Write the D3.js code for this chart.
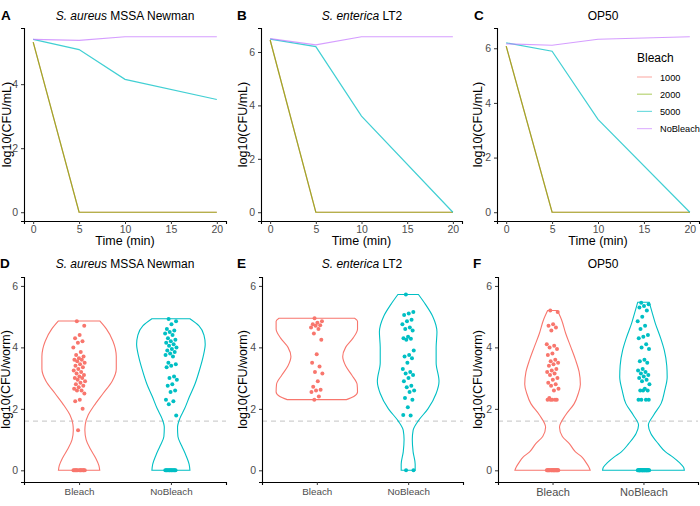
<!DOCTYPE html>
<html><head><meta charset="utf-8">
<script src="https://cdn.jsdelivr.net/npm/d3@7"></script>
<style>
body{margin:0;background:#fff;}
text{font-family:"Liberation Sans",Arial,sans-serif;}
</style></head>
<body><svg id="c" width="700" height="506"></svg>
<script>
// ---------------- DATA ----------------
const times = [0, 5, 10, 20];
const bleachLevels = ["1000", "2000", "5000", "NoBleach"];
const timeTicks = [0, 5, 10, 15, 20];

const A_1000 = [5.31, 0, 0, 0];
const A_2000 = [5.31, 0, 0, 0];
const A_5000 = [5.40, 5.08, 4.15, 3.52];
const A_NoBleach = [5.40, 5.37, 5.48, 5.48];

const B_1000 = [6.45, 0, 0, 0];
const B_2000 = [6.45, 0, 0, 0];
const B_5000 = [6.48, 6.20, 3.60, 0];
const B_NoBleach = [6.50, 6.27, 6.57, 6.57];

const C_1000 = [6.08, 0, 0, 0];
const C_2000 = [6.08, 0, 0, 0];
const C_5000 = [6.20, 5.89, 3.40, 0];
const C_NoBleach = [6.16, 6.11, 6.33, 6.42];

const ticksA = [0, 2, 4];
const ticksBC = [0, 2, 4, 6];
const wormTicks = [0, 2, 4, 6];
const groups = ["Bleach", "NoBleach"];
const detectionLimit = 1.6;

// worm CFU points
const D_Bleach = [4.85,4.7,4.4,4.3,4.2,4.15,4.0,3.85,3.75,3.7,3.65,3.6,3.6,3.55,3.5,3.45,3.4,3.35,3.3,3.25,3.2,3.15,3.1,3.05,3.0,3.0,2.95,2.9,2.85,2.8,2.75,2.7,2.65,2.6,2.6,2.5,2.3,2.25,2.0,1.3,
  0,0,0,0,0,0,0,0,0,0,0,0];
const D_NoBleach = [4.92,4.85,4.75,4.6,4.55,4.5,4.45,4.4,4.3,4.25,4.2,4.15,4.1,4.05,4.0,3.95,3.9,3.85,3.8,3.75,3.7,3.5,3.45,3.4,3.35,3.05,3.0,2.95,2.8,2.75,2.6,2.55,2.3,2.25,2.15,1.78,
  0,0,0,0,0,0,0,0,0,0,0,0];
const E_Bleach = [4.95,4.85,4.8,4.75,4.72,4.7,4.65,4.6,4.45,4.25,3.78,3.5,3.38,3.2,3.15,2.9,2.72,2.62,2.6,2.55,2.4,2.3];
const E_NoBleach = [5.72,5.15,5.1,5.05,4.9,4.85,4.75,4.65,4.6,4.55,4.35,4.3,4.28,4.25,3.9,3.75,3.7,3.65,3.5,3.3,3.2,3.15,3.1,3.0,2.9,2.75,2.7,2.6,2.55,2.35,2.3,2.05,1.8,1.78,0,0];
const F_Bleach = [5.2,5.15,4.75,4.7,4.65,4.55,4.1,4.05,4.0,3.95,3.8,3.75,3.6,3.55,3.5,3.45,3.4,3.3,3.25,3.2,3.15,3.1,3.0,2.95,2.85,2.8,2.75,2.65,2.6,2.35,2.3,2.3,2.3,2.3,2.3,
  0,0,0,0,0,0,0,0,0,0,0,0,0,0,0,0,0,0,0,0];
const F_NoBleach = [5.45,5.4,5.35,5.3,5.2,5.0,4.85,4.7,4.6,4.4,4.35,4.3,4.1,4.0,3.95,3.6,3.55,3.5,3.3,3.25,3.2,3.15,3.1,3.05,3.0,2.95,2.9,2.8,2.65,2.6,2.6,2.6,2.3,2.3,2.3,2.3,
  0,0,0,0,0,0,0,0,0,0,0,0,0,0,0,0,0,0,0,0,0,0,0,0,0];

// violin density profiles: [log10 CFU, relative width]
const D_BleachDens = [[4.86,.50],[4.6,.66],[4.2,.82],[3.7,.90],[3.3,.90],[2.9,.80],[2.5,.58],[2.1,.36],[1.8,.22],[1.5,.15],[1.3,.14],[1.0,.17],[0.7,.27],[0.4,.40],[0.15,.48],[0,.50]];
const D_NoBleachDens = [[4.93,.46],[4.7,.68],[4.4,.80],[4.1,.83],[3.7,.78],[3.3,.70],[2.8,.58],[2.4,.45],[2.0,.33],[1.7,.22],[1.4,.16],[1.1,.17],[0.8,.26],[0.5,.36],[0.2,.44],[0,.46]];
const E_BleachDens = [[4.95,.92],[4.85,.99],[4.6,.99],[4.3,.88],[4.0,.70],[3.7,.63],[3.4,.70],[3.1,.85],[2.8,.98],[2.55,.99],[2.4,.90],[2.3,.72]];
const E_NoBleachDens = [[5.72,.25],[5.4,.42],[5.0,.60],[4.5,.70],[4.0,.68],[3.5,.68],[2.9,.75],[2.5,.68],[2.0,.48],[1.6,.24],[1.3,.12],[1.0,.10],[0.6,.12],[0.2,.17],[0,.17]];
const F_BleachDens = [[5.2,.12],[4.9,.22],[4.46,.32],[4.0,.45],[3.6,.56],[3.2,.65],[2.8,.68],[2.5,.63],[2.17,.53],[1.8,.32],[1.4,.17],[1.1,.24],[0.87,.41],[0.6,.56],[0.43,.72],[0.25,.82],[0.1,.89],[0,.92]];
const F_NoBleachDens = [[5.47,.14],[5.1,.22],[4.78,.29],[4.3,.42],[3.9,.51],[3.4,.57],[3.04,.58],[2.6,.52],[2.17,.43],[1.8,.25],[1.47,.12],[1.2,.18],[0.87,.36],[0.6,.54],[0.43,.72],[0.25,.88],[0.1,.98],[0,1.0]];

// ---------------- STYLE ----------------
const lineColors = {"1000":"#F8766D","2000":"#7CAE00","5000":"#00BFC4","NoBleach":"#C77CFF"};
const grpColors = {"Bleach":"#F8766D","NoBleach":"#00BFC4"};
const svg = d3.select("#c");

function title(g, x, y, italicPart, rest) {
  const t = g.append("text").attr("x", x).attr("y", y).attr("text-anchor","middle")
    .attr("font-size", 12).attr("fill","#000");
  if (italicPart) t.append("tspan").attr("font-style","italic").text(italicPart + " ");
  t.append("tspan").text(rest);
}
function letter(x, y, s) {
  svg.append("text").attr("x", x).attr("y", y).attr("font-size", 13.5)
    .attr("font-weight","bold").text(s);
}
function styleAxis(g, fs) {
  g.select(".domain").attr("stroke","#000").attr("stroke-width",1.1);
  g.selectAll(".tick line").attr("stroke","#333").attr("stroke-width",1);
  g.selectAll(".tick text").attr("fill","#4D4D4D").attr("font-size", fs)
    .attr("font-family","'Liberation Sans',Arial,sans-serif");
}

// ---------------- TOP ROW: line charts ----------------
const topPanels = [
  {L:"A", it:"S. aureus", rest:"MSSA Newman", x0:24, x1:226, tx:125, lx:1, ytx:7,
   series:{"1000":A_1000,"2000":A_2000,"5000":A_5000,"NoBleach":A_NoBleach}, ticks:ticksA},
  {L:"B", it:"S. enterica", rest:"LT2", x0:261, x1:462, tx:362, lx:237, ytx:243,
   series:{"1000":B_1000,"2000":B_2000,"5000":B_5000,"NoBleach":B_NoBleach}, ticks:ticksBC},
  {L:"C", it:null, rest:"OP50", x0:497, x1:699, tx:603, lx:474, ytx:478,
   series:{"1000":C_1000,"2000":C_2000,"5000":C_5000,"NoBleach":C_NoBleach}, ticks:ticksBC}
];
const topY0 = 221, topY1 = 28;
topPanels.forEach(p => {
  const allv = bleachLevels.flatMap(k => p.series[k]);
  const [mn, mx] = d3.extent(allv);
  const pad = (mx - mn) * 0.05;
  const y = d3.scaleLinear().domain([mn - pad, mx + pad]).range([topY0, topY1]);
  const x = d3.scaleLinear().domain([-1, 21]).range([p.x0, p.x1]);
  const g = svg.append("g");
  const line = d3.line().x((d,i) => x(times[i])).y(d => y(d));
  bleachLevels.forEach(k => {
    g.append("path").datum(p.series[k]).attr("d", line).attr("fill","none")
      .attr("stroke", lineColors[k]).attr("stroke-width", 1.2).attr("stroke-opacity", 0.75);
  });
  const ax = svg.append("g").attr("transform", `translate(${p.x0},0)`)
    .call(d3.axisLeft(y).tickValues(p.ticks).tickSize(3).tickPadding(3).tickFormat(d3.format("d")));
  styleAxis(ax, 10.5);
  const bx = svg.append("g").attr("transform", `translate(0,${topY0})`)
    .call(d3.axisBottom(x).tickValues(timeTicks).tickSize(3).tickPadding(2).tickFormat(d3.format("d")));
  styleAxis(bx, 10.5);
  svg.append("text").attr("x", (p.x0 + p.x1)/2).attr("y", 245).attr("text-anchor","middle")
    .attr("font-size", 12.5).text("Time (min)");
  svg.append("text").attr("transform", `translate(${p.ytx + 4},${(topY0+topY1)/2}) rotate(-90)`)
    .attr("text-anchor","middle").attr("font-size", 12.5).text("log10(CFU/mL)");
  title(svg, p.tx, 20, p.it, p.rest);
  letter(p.lx, 20, p.L);
});

// legend (inside panel C)
const lg = svg.append("g");
lg.append("text").attr("x", 637).attr("y", 62).attr("font-size", 12).text("Bleach");
bleachLevels.forEach((k, i) => {
  const yy = 77 + i * 17.2;
  lg.append("line").attr("x1", 637).attr("x2", 652).attr("y1", yy).attr("y2", yy)
    .attr("stroke", lineColors[k]).attr("stroke-width", 1.2).attr("stroke-opacity", 0.55);
  lg.append("text").attr("x", 660).attr("y", yy + 3.5).attr("font-size", 9.2).text(k);
});

// ---------------- BOTTOM ROW: violins ----------------
const botPanels = [
  {L:"D", it:"S. aureus", rest:"MSSA Newman", x0:24, x1:226, tx:125, lx:0, ytx:6, fs:9.8,
   pts:{Bleach:D_Bleach, NoBleach:D_NoBleach}, dens:{Bleach:D_BleachDens, NoBleach:D_NoBleachDens}},
  {L:"E", it:"S. enterica", rest:"LT2", x0:262, x1:463, tx:362, lx:237, ytx:243, fs:9.8,
   pts:{Bleach:E_Bleach, NoBleach:E_NoBleach}, dens:{Bleach:E_BleachDens, NoBleach:E_NoBleachDens}},
  {L:"F", it:null, rest:"OP50", x0:498, x1:698, tx:603, lx:473, ytx:478, fs:11,
   pts:{Bleach:F_Bleach, NoBleach:F_NoBleach}, dens:{Bleach:F_BleachDens, NoBleach:F_NoBleachDens}}
];
const botY0 = 482, botY1 = 277;
botPanels.forEach(p => {
  const y = d3.scaleLinear().domain([-0.38, 6.29]).range([botY0, botY1]);
  const x = d3.scalePoint().domain(groups).range([p.x0, p.x1]).padding(0.6);
  const half = x.step() * 0.45;
  const g = svg.append("g");
  // detection limit
  g.append("line").attr("x1", p.x0).attr("x2", p.x1).attr("y1", y(detectionLimit)).attr("y2", y(detectionLimit))
    .attr("stroke","#CFCFCF").attr("stroke-width",1.1).attr("stroke-dasharray","5,4");
  groups.forEach(grp => {
    const cx = x(grp);
    const area = d3.area().curve(d3.curveMonotoneY)
      .y(d => y(d[0])).x0(d => cx - d[1]*half).x1(d => cx + d[1]*half);
    g.append("path").datum(p.dens[grp]).attr("d", area).attr("fill","none")
      .attr("stroke", grpColors[grp]).attr("stroke-width", 1.1);
    g.selectAll(null).data(p.pts[grp]).enter().append("circle")
      .attr("cx", (d, i) => cx + (((i * 0.6180339887 + 0.31) % 1) - 0.5) * 12)
      .attr("cy", d => y(d)).attr("r", 2).attr("fill", grpColors[grp]);
  });
  const ax = svg.append("g").attr("transform", `translate(${p.x0},0)`)
    .call(d3.axisLeft(y).tickValues(wormTicks).tickSize(3).tickPadding(3).tickFormat(d3.format("d")));
  styleAxis(ax, 10.5);
  const bx = svg.append("g").attr("transform", `translate(0,${botY0})`)
    .call(d3.axisBottom(x).tickSize(3).tickPadding(3));
  styleAxis(bx, p.fs);
  svg.append("text").attr("transform", `translate(${p.ytx + 4},${(botY0+botY1)/2}) rotate(-90)`)
    .attr("text-anchor","middle").attr("font-size", 12.5).text("log10(CFU/worm)");
  title(svg, p.tx, 268, p.it, p.rest);
  letter(p.lx, 268, p.L);
});
</script></body></html>
